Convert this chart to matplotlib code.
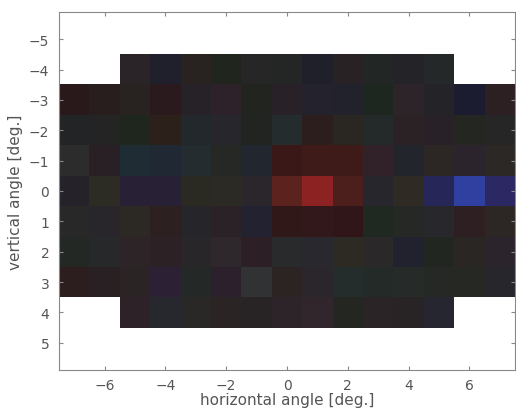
import numpy as np
import matplotlib
matplotlib.use("Agg")
import matplotlib.pyplot as plt

plt.rcParams['font.family'] = ['DejaVu Sans']

# horizontal / vertical angles of the cells (deg.)
h_angles = np.arange(-7, 8)
v_angles = np.arange(-4, 5)

# RGB of each cell, rows = vertical angle -4..4, cols = horizontal -7..7
# None = no measurement at that position
N = None
red = [
    [N, N, 42, 32, 40, 32, 38, 36, 32, 40, 34, 36, 36, N, N],
    [42, 40, 40, 42, 38, 45, 34, 40, 36, 34, 30, 44, 36, 28, 44],
    [34, 36, 30, 44, 34, 38, 34, 36, 44, 42, 36, 42, 40, 36, 38],
    [44, 40, 32, 32, 36, 38, 34, 58, 62, 62, 48, 34, 44, 44, 44],
    [38, 44, 40, 40, 42, 44, 42, 92, 140, 76, 38, 48, 38, 48, 44],
    [40, 40, 44, 44, 38, 42, 34, 48, 50, 48, 32, 38, 40, 46, 44],
    [36, 38, 44, 44, 40, 46, 44, 40, 40, 44, 42, 34, 34, 42, 44],
    [44, 40, 42, 44, 36, 44, 48, 44, 42, 36, 36, 38, 38, 38, 38],
    [N, N, 44, 38, 42, 42, 40, 44, 48, 36, 42, 40, 38, N, N],
]
green = [
    [N, N, 35, 32, 35, 38, 38, 38, 32, 34, 38, 36, 40, N, N],
    [25, 30, 34, 26, 34, 34, 36, 34, 34, 34, 38, 36, 36, 28, 32],
    [36, 36, 38, 32, 40, 38, 36, 44, 30, 38, 42, 34, 34, 38, 38],
    [44, 32, 44, 40, 44, 40, 38, 24, 26, 26, 34, 38, 38, 36, 40],
    [34, 44, 32, 32, 42, 42, 38, 34, 34, 30, 38, 42, 38, 64, 40],
    [40, 38, 40, 32, 38, 34, 34, 24, 24, 22, 40, 40, 40, 32, 38],
    [40, 40, 36, 34, 38, 40, 32, 42, 40, 42, 40, 34, 38, 38, 36],
    [30, 32, 36, 32, 40, 32, 50, 36, 38, 44, 42, 42, 40, 40, 38],
    [N, N, 34, 40, 40, 36, 36, 36, 38, 38, 36, 36, 38, N, N],
]
blue = [
    [N, N, 40, 45, 32, 30, 38, 38, 42, 36, 36, 40, 40, N, N],
    [26, 30, 33, 30, 40, 42, 32, 40, 44, 44, 32, 40, 40, 48, 34],
    [38, 36, 30, 26, 44, 44, 34, 46, 28, 34, 42, 36, 40, 34, 38],
    [44, 36, 52, 52, 48, 38, 46, 24, 24, 24, 40, 44, 36, 44, 38],
    [42, 36, 52, 52, 34, 36, 44, 30, 34, 28, 44, 36, 88, 160, 100],
    [40, 42, 36, 32, 42, 38, 48, 24, 26, 24, 34, 38, 44, 34, 36],
    [36, 42, 38, 38, 40, 44, 38, 44, 46, 34, 40, 46, 32, 36, 44],
    [30, 34, 36, 52, 38, 44, 52, 34, 44, 44, 40, 40, 38, 36, 44],
    [N, N, 40, 46, 38, 36, 38, 40, 44, 34, 38, 38, 48, N, N],
]

def channel(vals):
    return np.array([[np.nan if v is None else v for v in row] for row in vals], dtype=float)

r, g, b = channel(red), channel(green), channel(blue)
rgba = np.dstack([r, g, b, np.ones_like(r) * 255]) / 255.0
rgba[np.isnan(r)] = [1, 1, 1, 0]

fig = plt.figure(figsize=(5.16, 4.14), dpi=100)
ax = fig.add_axes([59 / 516, 43 / 414, 456 / 516, 358 / 414])

ax.imshow(rgba, extent=(h_angles[0] - 0.5, h_angles[-1] + 0.5,
                        v_angles[-1] + 0.5, v_angles[0] - 0.5),
          origin='upper', interpolation='nearest', aspect='auto')

ax.set_xlim(-7.5, 7.5)
ax.set_ylim(5.9, -5.9)
xt = np.arange(-6, 7, 2)
yt = np.arange(-5, 6, 1)
ax.set_xticks(xt)
ax.set_yticks(yt)
ax.set_xticklabels([str(t).replace('-', '\u2212') for t in xt])
ax.set_yticklabels([str(t).replace('-', '\u2212') for t in yt])

gray = '#555555'
for s in ax.spines.values():
    s.set_color('#888888')
    s.set_linewidth(0.8)
ax.tick_params(direction='in', top=True, right=True, length=3,
               color='#888888', labelcolor=gray, labelsize=10)
ax.tick_params(axis='x', pad=6)
ax.tick_params(axis='y', pad=7)

ax.set_xlabel('horizontal angle [deg.]', color=gray, fontsize=11, labelpad=0)
ax.set_ylabel('vertical angle [deg.]', color=gray, fontsize=11, labelpad=4)

fig.savefig('out.png', dpi=100)
